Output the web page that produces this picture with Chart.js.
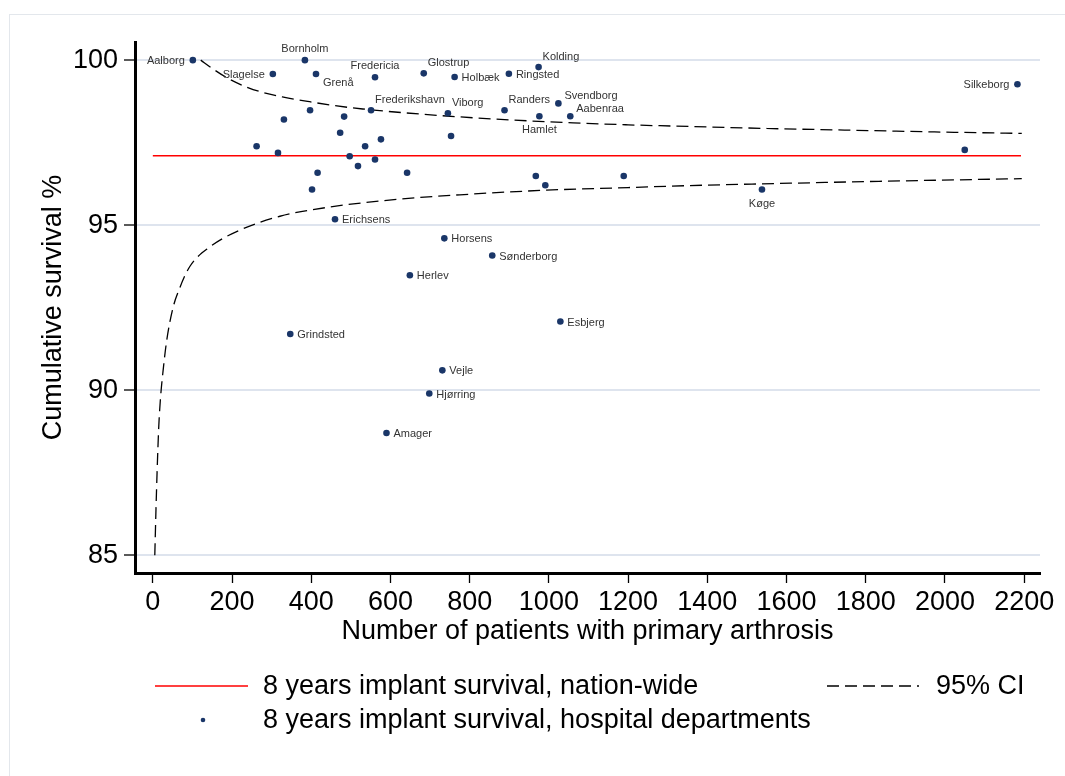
<!DOCTYPE html>
<html><head><meta charset="utf-8">
<script src="https://cdn.jsdelivr.net/npm/chart.js@4/dist/chart.umd.min.js"></script>
<style>html,body{margin:0;padding:0;background:#fff;}canvas{display:block;}</style>
</head><body>
<canvas id="c" width="1065" height="776"></canvas>
<script>
// ---- data ----
const hospitalNames = ["Aalborg","Bornholm","Slagelse","Grenå","Fredericia","Glostrup","Holbæk","Ringsted","Kolding",
  "Frederikshavn","Viborg","Randers","Hamlet","Svendborg","Aabenraa","Silkeborg","Køge","Erichsens","Horsens","Herlev",
  "Sønderborg","Grindsted","Esbjerg","Vejle","Hjørring","Amager",
  "","","","","","","","","","","","","","","","","","",""];
const hospitalPatients = [101,384,303,412,561,684,762,899,974,
  551,745,888,976,1024,1054,2183,1538,460,736,649,
  857,347,1029,731,698,590,
  331,397,483,473,576,753,262,316,536,497,561,518,416,642,402,967,991,1189,2050];
const hospitalSurvival = [100.0,100.0,99.58,99.58,99.48,99.6,99.49,99.59,99.79,
  98.48,98.39,98.48,98.30,98.69,98.30,99.27,96.08,95.18,94.6,93.48,
  94.08,91.70,92.08,90.6,89.9,88.7,
  98.20,98.48,98.29,97.80,97.60,97.70,97.39,97.19,97.39,97.09,96.99,96.79,96.59,96.59,96.08,96.49,96.21,96.49,97.28];
const nationalSurvival = 97.1;
const nationalPatients = [0, 2192];
const ciUpperPatients = [121,150,194,240,278,330,396,460,530,640,775,900,1061,1200,1356,1550,1752,1950,2194];
const ciUpperSurvival = [100.0,99.75,99.42,99.17,99.02,98.88,98.74,98.62,98.52,98.40,98.28,98.19,98.10,98.04,97.99,97.93,97.88,97.83,97.78];
const ciLowerPatients = [5,8,11,15,19,26,35,51,68,93,144,220,321,447,615,775,994,1200,1356,1533,1800,2194];
const ciLowerSurvival = [85.0,86.4,87.6,88.9,89.7,90.6,91.5,92.5,93.1,93.74,94.34,94.85,95.27,95.55,95.78,95.92,96.06,96.14,96.20,96.25,96.32,96.41];
const xTickValues = [0,200,400,600,800,1000,1200,1400,1600,1800,2000,2200];
const yTickValues = [85,90,95,100];
const legendTexts = ["8 years implant survival, nation-wide","95% CI","8 years implant survival, hospital departments"];
const xTitle = "Number of patients with primary arthrosis";
const yTitle = "Cumulative survival %";

// ---- styling ----
const FONT = "'Liberation Sans', Arial, sans-serif";
const NAVY = '#1a3668';
const labelClock = {Aalborg:9,Bornholm:12,Slagelse:9,"Grenå":4,Fredericia:12,Glostrup:1,Kolding:1,
  Frederikshavn:1,Viborg:1,Randers:1,Hamlet:6,Svendborg:2,Aabenraa:2,Silkeborg:9,"Køge":6};
const clockOffsets = {
  3:{dx:7,dy:1,align:'left'}, 9:{dx:-8,dy:1,align:'right'}, 12:{dx:0,dy:-11,align:'center'},
  1:{dx:4,dy:-10,align:'left'}, 2:{dx:6,dy:-7,align:'left'}, 4:{dx:7,dy:9,align:'left'},
  6:{dx:0,dy:14,align:'center'}
};

const pointLabels = {
  id:'pointLabels',
  afterDatasetsDraw(chart){
    const meta = chart.getDatasetMeta(0);
    const ctx = chart.ctx;
    ctx.save();
    ctx.font = "11px " + FONT;
    ctx.fillStyle = '#333';
    ctx.textBaseline = 'middle';
    meta.data.forEach((pt,i)=>{
      const name = hospitalNames[i];
      if(!name) return;
      const o = clockOffsets[labelClock[name] || 3];
      ctx.textAlign = o.align;
      ctx.fillText(name, pt.x + o.dx, pt.y + o.dy);
    });
    ctx.restore();
  }
};

const frameAndLegend = {
  id:'frameAndLegend',
  beforeDraw(chart){
    const ctx = chart.ctx;
    ctx.save();
    ctx.fillStyle = '#fff';
    ctx.fillRect(0,0,chart.width,chart.height);
    ctx.strokeStyle = '#e3e7ec';
    ctx.lineWidth = 1;
    ctx.strokeRect(9.5,14.5,1200,1000);
    ctx.restore();
  },
  afterDraw(chart){
    const ctx = chart.ctx;
    const ds = chart.data.datasets;
    ctx.save();
    ctx.strokeStyle = ds[1].borderColor; ctx.lineWidth = ds[1].borderWidth;
    ctx.beginPath(); ctx.moveTo(155,686); ctx.lineTo(248,686); ctx.stroke();
    ctx.strokeStyle = ds[2].borderColor; ctx.lineWidth = ds[2].borderWidth;
    ctx.setLineDash(ds[2].borderDash);
    ctx.beginPath(); ctx.moveTo(827,686); ctx.lineTo(919,686); ctx.stroke();
    ctx.setLineDash([]);
    ctx.fillStyle = NAVY;
    ctx.beginPath(); ctx.arc(203,720,2.3,0,Math.PI*2); ctx.fill();
    ctx.fillStyle = '#000';
    ctx.font = "27px " + FONT;
    ctx.textAlign = 'left'; ctx.textBaseline = 'middle';
    ctx.fillText(legendTexts[0], 263, 687);
    ctx.fillText(legendTexts[1], 936, 687);
    ctx.fillText(legendTexts[2], 263, 721);
    ctx.restore();
  }
};

const ciStyle = {borderColor:'#000', borderWidth:1.3, borderDash:[12,6], pointRadius:0, showLine:true,
  cubicInterpolationMode:'monotone', fill:false};

new Chart(document.getElementById('c'), {
  type:'scatter',
  data:{
    datasets:[
      {label:'hospital', data:hospitalPatients.map((n,i)=>({x:n,y:hospitalSurvival[i]})),
        backgroundColor:NAVY, borderWidth:0, pointRadius:3.3, order:0},
      {label:'national', data:nationalPatients.map(n=>({x:n,y:nationalSurvival})),
        showLine:true, borderColor:'#ff0000', borderWidth:1.5, pointRadius:0, order:2},
      Object.assign({label:'ciUpper', data:ciUpperPatients.map((n,i)=>({x:n,y:ciUpperSurvival[i]})), order:1}, ciStyle),
      Object.assign({label:'ciLower', data:ciLowerPatients.map((n,i)=>({x:n,y:ciLowerSurvival[i]})), order:1}, ciStyle)
    ]
  },
  options:{
    responsive:false, devicePixelRatio:1, animation:false,
    layout:{padding:{top:42,right:25,left:0,bottom:128}},
    plugins:{legend:{display:false}, tooltip:{enabled:false}},
    scales:{
      x:{type:'linear', min:-45, max:2240,
        afterBuildTicks(s){ s.ticks = xTickValues.map(v=>({value:v})); },
        afterFit(s){ s.height = 75; },
        ticks:{font:{family:FONT,size:27}, color:'#000', padding:3, maxRotation:0, autoSkip:false,
          callback:v=>String(v)},
        grid:{drawOnChartArea:false, drawTicks:true, tickLength:10, tickColor:'#000', tickWidth:1.3},
        border:{display:true, color:'#000', width:3},
        title:{display:true, text:xTitle, font:{family:FONT,size:27}, color:'#000', padding:{top:0,bottom:0}}
      },
      y:{type:'linear', min:84.46, max:100.55,
        afterBuildTicks(s){ s.ticks = yTickValues.map(v=>({value:v})); },
        afterFit(s){ s.width = 135; },
        ticks:{font:{family:FONT,size:27}, color:'#000', padding:6, callback:v=>String(v)},
        grid:{color:'#dee4ee', lineWidth:2, drawTicks:true, tickLength:11, tickColor:'#000', tickWidth:1.3},
        border:{display:true, color:'#000', width:3},
        title:{display:true, text:yTitle, font:{family:FONT,size:27}, color:'#000', padding:{top:37,bottom:0}}
      }
    }
  },
  plugins:[frameAndLegend, pointLabels]
});
</script>
</body></html>
